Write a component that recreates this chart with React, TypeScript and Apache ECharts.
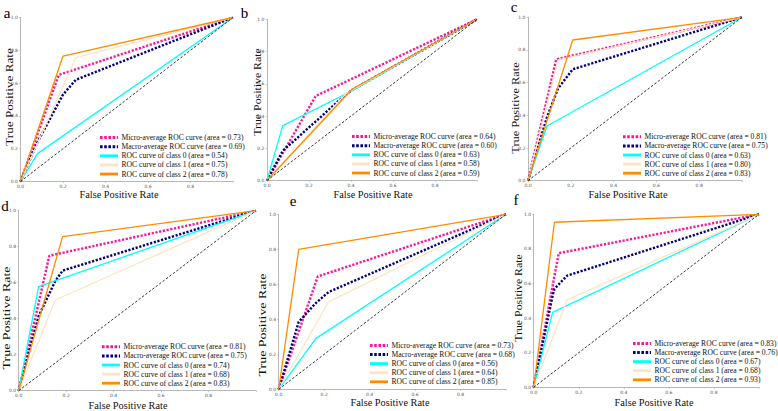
import React, { useEffect, useRef } from 'react';
import * as echarts from 'echarts';

// ---------- data ----------
const panelLetters = ['a', 'b', 'c', 'd', 'e', 'f'];
const seriesNames = [
  'Micro-average ROC curve',
  'Macro-average ROC curve',
  'ROC curve of class 0',
  'ROC curve of class 1',
  'ROC curve of class 2',
];
const xTickLabels = ['0.0', '0.2', '0.4', '0.6', '0.8'];
const yTickLabels = ['0.0', '0.2', '0.4', '0.6', '0.8', '1.0'];
const xTitle = 'False Positive Rate';
const yTitle = 'True Positive Rate';

const areasA = [0.73, 0.69, 0.54, 0.75, 0.78];
const areasB = [0.64, 0.6, 0.63, 0.58, 0.59];
const areasC = [0.81, 0.75, 0.63, 0.8, 0.83];
const areasD = [0.81, 0.75, 0.74, 0.68, 0.83];
const areasE = [0.73, 0.68, 0.56, 0.64, 0.85];
const areasF = [0.83, 0.76, 0.67, 0.68, 0.93];

const chance = [[0, 0], [1, 1]];

const microA = [[0, 0], [0.18, 0.65], [1, 1]];
const macroA = [[0, 0], [0.08, 0.24], [0.2, 0.53], [0.26, 0.62], [1, 1]];
const class0A = [[0, 0], [0.08, 0.17], [1, 1]];
const class1A = [[0, 0], [0.26, 0.755], [1, 1]];
const class2A = [[0, 0], [0.2, 0.765], [1, 1]];

const microB = [[0, 0], [0.232, 0.524], [1, 1]];
const macroB = [[0, 0], [0.075, 0.184], [0.376, 0.534], [0.405, 0.561], [1, 1]];
const class0B = [[0, 0], [0.075, 0.34], [0.405, 0.557], [1, 1]];
const class1B = [[0, 0], [0.376, 0.54], [1, 1]];
const class2B = [[0, 0], [0.405, 0.566], [1, 1]];

const microC = [[0, 0], [0.132, 0.743], [1, 1]];
const macroC = [[0, 0], [0.089, 0.39], [0.14, 0.563], [0.209, 0.682], [1, 1]];
const class0C = [[0, 0], [0.089, 0.335], [1, 1]];
const class1C = [[0, 0], [0.14, 0.74], [1, 1]];
const class2C = [[0, 0], [0.209, 0.861], [1, 1]];

const microD = [[0, 0], [0.129, 0.75], [1, 1]];
const macroD = [[0, 0], [0.084, 0.414], [0.154, 0.609], [0.185, 0.667], [1, 1]];
const class0D = [[0, 0], [0.084, 0.578], [1, 1]];
const class1D = [[0, 0], [0.154, 0.504], [1, 1]];
const class2D = [[0, 0], [0.185, 0.856], [1, 1]];

const microE = [[0, 0], [0.172, 0.645], [1, 1]];
const macroE = [[0, 0], [0.088, 0.385], [0.164, 0.494], [0.22, 0.556], [1, 1]];
const class0E = [[0, 0], [0.164, 0.291], [1, 1]];
const class1E = [[0, 0], [0.22, 0.5], [1, 1]];
const class2E = [[0, 0], [0.088, 0.8], [1, 1]];

const microF = [[0, 0], [0.111, 0.775], [1, 1]];
const macroF = [[0, 0], [0.084, 0.53], [0.092, 0.569], [0.148, 0.645], [1, 1]];
const class0F = [[0, 0], [0.084, 0.433], [1, 1]];
const class1F = [[0, 0], [0.148, 0.505], [1, 1]];
const class2F = [[0, 0], [0.092, 0.954], [1, 1]];

const panelAreas = [areasA, areasB, areasC, areasD, areasE, areasF];
const panelCurves = [
  [microA, macroA, class0A, class1A, class2A],
  [microB, macroB, class0B, class1B, class2B],
  [microC, macroC, class0C, class1C, class2C],
  [microD, macroD, class0D, class1D, class2D],
  [microE, macroE, class0E, class1E, class2E],
  [microF, macroF, class0F, class1F, class2F],
];

// ---------- layout & style ----------
const gridBoxes = [
  { left: 20.5, top: 17.5, width: 212.5, height: 164 },
  { left: 267, top: 19.3, width: 210, height: 161.2 },
  { left: 528, top: 17.3, width: 214, height: 163.4 },
  { left: 18.7, top: 210.7, width: 237.3, height: 180 },
  { left: 278.7, top: 214.3, width: 227.3, height: 175 },
  { left: 533.7, top: 214.3, width: 225.3, height: 173 },
];
const letterPos = [[7, 13], [244.5, 12.5], [514, 7], [5, 206], [293, 201], [516, 200]];
const xTitlePos = [[119, 194], [373, 194], [628, 194], [128, 405], [390, 402], [654, 402]];
const yTitlePos = [[10, 97], [257, 92], [515, 108], [7, 318], [263, 325], [518, 298]];
const yTitleScale = [1.28, 1.15, 1.2, 1.35, 1.35, 1.15];
const legendX = [100, 352, 623, 102, 370, 633];
const legendStep = 9.1;
const legendBottomGap = 7.5;

const colors = ['#ff1493', '#000080', '#00ffff', '#ffe4c4', '#ff8c00'];
const dotted = [true, true, false, false, false];
const serif = 'Liberation Serif';

export default function App() {
  const ref = useRef<HTMLDivElement>(null);

  useEffect(() => {
    document.body.style.margin = '0';
    if (!ref.current) return;
    const chart = echarts.init(ref.current, undefined, { renderer: 'svg' });

    const grid: any[] = [];
    const xAxis: any[] = [];
    const yAxis: any[] = [];
    const series: any[] = [];
    const graphic: any[] = [];

    const axisCommon = {
      type: 'value',
      min: 0,
      max: 1,
      interval: 0.2,
      splitLine: { show: false },
      axisLine: { show: true, lineStyle: { color: '#9a9a9a', width: 0.7 } },
      axisTick: { show: true, length: 1.5, lineStyle: { color: '#9a9a9a', width: 0.5 } },
    };

    gridBoxes.forEach((g, i) => {
      grid.push({ ...g, containLabel: false });
      xAxis.push({
        ...axisCommon,
        gridIndex: i,
        axisLabel: {
          fontSize: 4.5,
          color: '#555',
          margin: 2.5,
          fontFamily: 'DejaVu Sans',
          formatter: (v: number) => xTickLabels[Math.round(v / 0.2)] ?? '',
        },
      });
      yAxis.push({
        ...axisCommon,
        gridIndex: i,
        axisLabel: {
          fontSize: 4.5,
          color: '#555',
          margin: 2.5,
          fontFamily: 'DejaVu Sans',
          formatter: (v: number) => yTickLabels[Math.round(v / 0.2)] ?? '',
        },
      });

      const areas = panelAreas[i];
      panelCurves[i].forEach((curve, k) => {
        series.push({
          type: 'line',
          name: `${seriesNames[k]} (area = ${areas[k].toFixed(2)})`,
          xAxisIndex: i,
          yAxisIndex: i,
          data: curve,
          symbol: 'none',
          showSymbol: false,
          silent: true,
          lineStyle: {
            color: colors[k],
            width: dotted[k] ? 2.4 : 1.3,
            type: dotted[k] ? [2.2, 1.6] : 'solid',
            cap: 'butt',
          },
        });
      });
      series.push({
        type: 'line',
        name: 'chance',
        xAxisIndex: i,
        yAxisIndex: i,
        data: chance,
        symbol: 'none',
        silent: true,
        lineStyle: { color: '#000', width: 0.8, type: [2.5, 1.8] },
      });

      graphic.push({
        type: 'text',
        x: letterPos[i][0],
        y: letterPos[i][1],
        style: {
          text: panelLetters[i],
          fontSize: 15,
          fontFamily: serif,
          fill: '#000',
          align: 'center',
          verticalAlign: 'middle',
        },
      });
      graphic.push({
        type: 'text',
        x: xTitlePos[i][0],
        y: xTitlePos[i][1],
        style: {
          text: xTitle,
          fontSize: 10.3,
          fontFamily: serif,
          fill: '#111',
          align: 'center',
          verticalAlign: 'middle',
        },
      });
      graphic.push({
        type: 'text',
        x: yTitlePos[i][0],
        y: yTitlePos[i][1],
        rotation: Math.PI / 2,
        scaleX: yTitleScale[i],
        style: {
          text: yTitle,
          fontSize: 10.3,
          fontFamily: serif,
          fill: '#111',
          align: 'center',
          verticalAlign: 'middle',
        },
      });
      const bottom = g.top + g.height - legendBottomGap;
      const firstY = bottom - 4 * legendStep;
      seriesNames.forEach((nm, k) => {
        const yy = firstY + k * legendStep;
        graphic.push({
          type: 'line',
          shape: { x1: legendX[i], y1: yy, x2: legendX[i] + 18, y2: yy },
          style: {
            stroke: colors[k],
            lineWidth: dotted[k] ? 3 : 2.8,
            lineDash: dotted[k] ? [2.6, 1.6] : null,
          },
        });
        graphic.push({
          type: 'text',
          x: legendX[i] + 21.5,
          y: yy,
          style: {
            text: `${nm} (area = ${areas[k].toFixed(2)})`,
            fontSize: 7.6,
            fontFamily: serif,
            fill: '#111',
            align: 'left',
            verticalAlign: 'middle',
          },
        });
      });
    });

    chart.setOption({
      animation: false,
      backgroundColor: '#fff',
      grid,
      xAxis,
      yAxis,
      series,
      graphic,
    });

    return () => chart.dispose();
  }, []);

  return <div ref={ref} style={{ width: 778, height: 411 }} />;
}
